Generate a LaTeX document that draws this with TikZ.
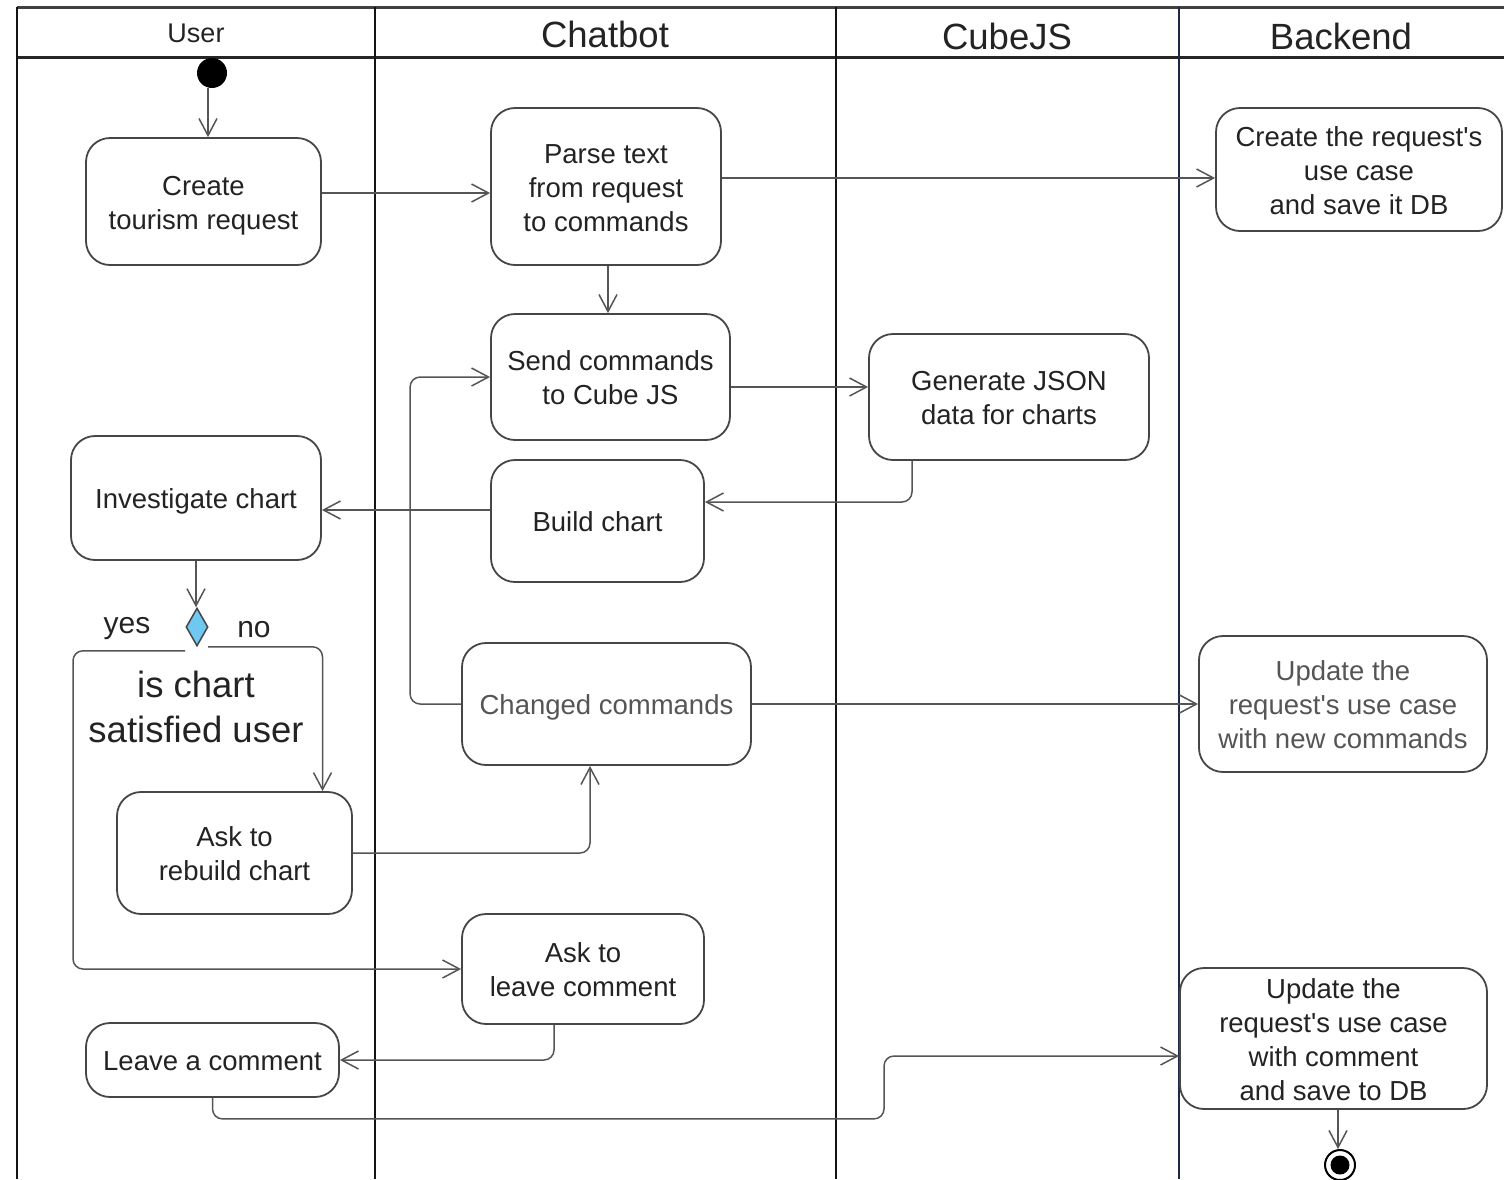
\documentclass[tikz,border=0pt]{standalone}
\usepackage{fontspec}
\newfontfamily\lib{Liberation Sans}
\usetikzlibrary{arrows.meta,shapes.geometric}
\definecolor{boxc}{RGB}{70,70,70}
\definecolor{linec}{RGB}{85,85,85}
\definecolor{txtc}{RGB}{35,35,35}
\definecolor{txtg}{RGB}{85,85,85}
\definecolor{lanec}{RGB}{20,20,20}
\definecolor{diac}{RGB}{110,200,240}
\newcommand\boxfnt{\lib\fontsize{27.5}{34}\selectfont}
\newcommand\headfnt{\lib\fontsize{36.5}{40}\selectfont}
\newcommand\userfnt{\lib\fontsize{27}{30}\selectfont}
\newcommand\bigfnt{\lib\fontsize{36.5}{45}\selectfont}
\newcommand\yesfnt{\lib\fontsize{30}{34}\selectfont}
\newcommand\bt[1]{\raisebox{-4pt}[\height][\depth]{\begin{tabular}{@{}c@{}}#1\end{tabular}}}
\tikzset{
  actbox/.style={draw=boxc, line width=1.8pt, rounded corners=24pt, align=center,
    font=\boxfnt, text=txtc, inner sep=0pt, fill=white},
  arr/.style={draw=linec, line width=1.5pt, -{Straight Barb[length=17pt,width=18pt,line width=1.5pt]}},
  lane/.style={draw=lanec, line width=2.5pt},
  headtxt/.style={font=\headfnt, text=txtc, inner sep=0pt}
}
\begin{document}
\begin{tikzpicture}[x=1pt,y=-1pt]
\useasboundingbox (0,0) rectangle (1504,1179);
% swimlane frame
\draw[draw=black!75, line width=3pt] (17,7) -- (1504,7);
\draw[draw=black!85, line width=3pt] (17,57) -- (1504,57);
\draw[lane] (17,7) -- (17,1179);
\draw[lane] (375,7) -- (375,1179);
\draw[lane] (836,7) -- (836,1179);
\draw[draw={rgb,255:red,30;green,40;blue,70}, line width=2pt] (1179,7) -- (1179,1179);
% headers
\node[inner sep=0pt, font=\userfnt, text=txtc] (hUser) at (196,33) {User};
\node[headtxt] (hChat) at (605,34) {Chatbot};
\node[headtxt] (hCube) at (1007,36) {CubeJS};
\node[headtxt] (hBack) at (1341,36) {Backend};
% nodes
\node[circle, fill=black, inner sep=0pt, minimum size=30pt] (start) at (212,73) {};
\node[actbox, minimum width=235pt, minimum height=127pt] (create) at (203.5,201.5) {\bt{Create\\tourism request}};
\node[actbox, minimum width=230pt, minimum height=157pt] (parse) at (606,186.5) {\bt{Parse text\\from request\\to commands}};
\node[actbox, minimum width=286pt, minimum height=123pt] (usecase) at (1359,169.5) {\bt{Create the request's\\use case\\and save it DB}};
\node[actbox, minimum width=239pt, minimum height=126pt] (send) at (610.5,377) {\bt{Send commands\\to Cube JS}};
\node[actbox, minimum width=280pt, minimum height=126pt] (gen) at (1009,397) {\bt{Generate JSON\\data for charts}};
\node[actbox, minimum width=250pt, minimum height=124pt] (invest) at (196,498) {\bt{Investigate chart}};
\node[actbox, minimum width=213pt, minimum height=122pt] (build) at (597.5,521) {\bt{Build chart}};
\node[diamond, draw=boxc, line width=1.5pt, fill=diac, inner sep=0pt, minimum width=22pt, minimum height=38pt] (dia) at (197,627) {};
\node[inner sep=0pt, font=\yesfnt, text=txtc] (yes) at (127,629) {yes};
\node[inner sep=0pt, font=\yesfnt, text=txtc] (no) at (254,630) {no};
\node[inner sep=0pt, font=\bigfnt, text=txtc, align=center] (cond) at (196,707) {is chart\\satisfied user};
\node[actbox, minimum width=235pt, minimum height=122pt] (rebuild) at (234.5,853) {\bt{Ask to\\rebuild chart}};
\node[actbox, minimum width=289pt, minimum height=122pt, text=txtg] (changed) at (606.5,704) {\bt{Changed commands}};
\node[actbox, minimum width=288pt, minimum height=136pt, text=txtg] (updnew) at (1343,704) {\bt{Update the\\request's use case\\with new commands}};
\node[actbox, minimum width=242pt, minimum height=110pt] (asklc) at (583,969) {\bt{Ask to\\leave comment}};
\node[actbox, minimum width=253pt, minimum height=74pt] (leave) at (212.5,1060) {\bt{Leave a comment}};
\node[actbox, minimum width=307pt, minimum height=141pt] (updcmt) at (1333.5,1038.5) {\bt{Update the\\request's use case\\with comment\\and save to DB}};
\node[circle, draw=black, line width=2pt, inner sep=0pt, minimum size=30pt] (stop) at (1340,1165) {};
\node[circle, fill=black, inner sep=0pt, minimum size=19pt] (stopdot) at (1340,1165) {};
% connectors
\draw[arr] ([xshift=-4pt]start.south) -- ([xshift=-4pt]start.south |- create.north);
\draw[arr] ([yshift=8.5pt]create.east) -- ([yshift=8.5pt]create.east -| parse.west);
\draw[arr] ([yshift=8.5pt]parse.east) -- ([yshift=8.5pt]parse.east -| usecase.west);
\draw[arr] ([xshift=2pt]parse.south) -- ([xshift=2pt]parse.south |- send.north);
\draw[arr] ([yshift=-10pt]send.east) -- ([yshift=-10pt]send.east -| gen.west);
\draw[arr, rounded corners=10pt] ([xshift=-97pt]gen.south) |- ([yshift=19pt]build.east);
\draw[arr] ([yshift=11pt]build.west) -- ([yshift=11pt]build.west -| invest.east);
\draw[arr] (invest.south) -- (invest.south |- dia.north);
\draw[arr, rounded corners=10pt] ([xshift=-12pt,yshift=-4pt]dia.south) -- ++(-112,0) |- (asklc.west);
\draw[arr, rounded corners=10pt] ([xshift=11pt]dia.south) -| ([xshift=88pt]rebuild.north);
\draw[arr, rounded corners=10pt] (rebuild.east) -| ([xshift=-16.5pt]changed.south);
\draw[arr, rounded corners=10pt] (changed.west) -- ++(-51,0) |- (send.west);
\draw[arr] (changed.east) -- (updnew.west);
\draw[arr, rounded corners=10pt] ([xshift=-29pt]asklc.south) |- (leave.east);
\draw[arr, rounded corners=10pt] (leave.south) -- ++(0,21) -- ++(671.5,0) |- ([yshift=-17.5pt]updcmt.west);
\draw[arr] ([xshift=4.5pt]updcmt.south) -- ([xshift=4.5pt]updcmt.south |- stop.north);
\end{tikzpicture}
\end{document}
